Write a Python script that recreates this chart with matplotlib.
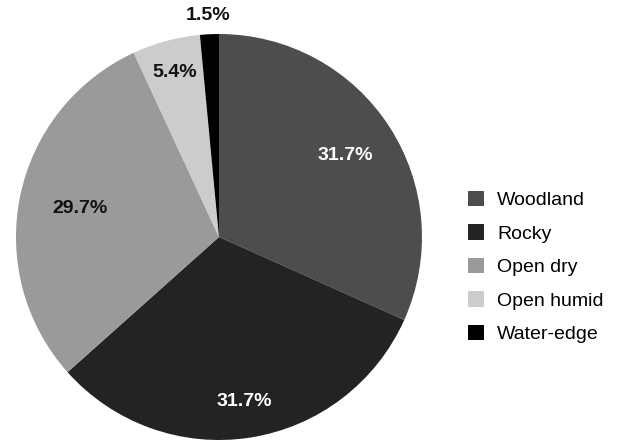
import numpy as np
import matplotlib

matplotlib.use("Agg")
import matplotlib.pyplot as plt

plt.rcParams["font.family"] = ["Liberation Sans", "DejaVu Sans"]

# 数据
categories = ["Woodland", "Rocky", "Open dry", "Open humid", "Water-edge"]
shares = [31.7, 31.7, 29.7, 5.4, 1.5]
colors = ["#4d4d4d", "#232323", "#9a9a9a", "#cccccc", "#000000"]
label_colors = ["white", "white", "#111111", "#111111", "#111111"]
label_radius = [0.74, 0.82, 0.70, 0.84, 1.09]

fig = plt.figure(figsize=(6.17, 4.42), dpi=100)
ax = fig.add_axes([0.0259, 0.0045, 0.658, 0.9186])

wedges, _ = ax.pie(
    shares,
    colors=colors,
    startangle=90,
    counterclock=False,
    radius=1.0,
)
ax.set_xlim(-1, 1)
ax.set_ylim(-1, 1)
ax.set_aspect("equal")

for w, val, c, r in zip(wedges, shares, label_colors, label_radius):
    ang = np.deg2rad((w.theta1 + w.theta2) / 2)
    ax.text(
        r * np.cos(ang), r * np.sin(ang), f"{val:.1f}%",
        ha="center", va="center", fontsize=14, fontweight="bold",
        color=c, clip_on=False,
    )

leg = fig.legend(
    wedges, categories,
    loc="center left", bbox_to_anchor=(0.730, 0.396),
    frameon=False, fontsize=14,
    handlelength=0.85, handleheight=0.85, handletextpad=0.65,
    labelspacing=0.77,
)

fig.savefig("out.png", dpi=100)
